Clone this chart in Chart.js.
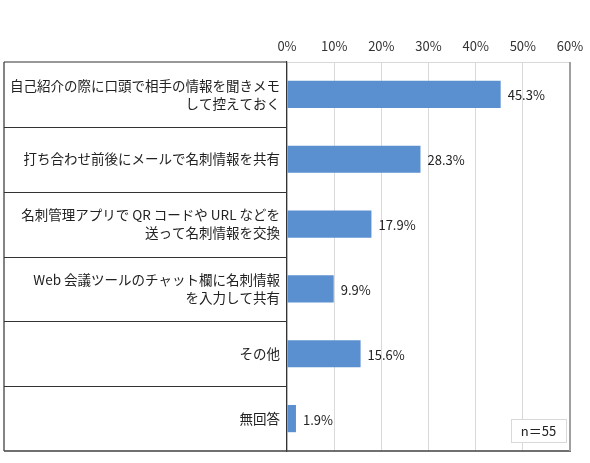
<!DOCTYPE html>
<html>
<head>
<meta charset="utf-8">
<script src="https://cdn.jsdelivr.net/npm/chart.js@4.4.1/dist/chart.umd.min.js"></script>
<style>
html,body{margin:0;padding:0;background:#fff;overflow:hidden;}
canvas{display:block;}
</style>
</head>
<body>
<canvas id="c" width="590" height="463" style="width:590px;height:463px"></canvas>
<script>
const categories = [
  ["自己紹介の際に口頭で相手の情報を聞きメモ", "して控えておく"],
  ["打ち合わせ前後にメールで名刺情報を共有"],
  ["名刺管理アプリで QR コードや URL などを", "送って名刺情報を交換"],
  ["Web 会議ツールのチャット欄に名刺情報", "を入力して共有"],
  ["その他"],
  ["無回答"]
];
const values = [45.3, 28.3, 17.9, 9.9, 15.6, 1.9];
const sampleNote = "n＝55";
const axisMin = 0, axisMax = 60, axisStep = 10;

const FONT = '"Noto Sans CJK JP", "Noto Sans", sans-serif';

const framePlugin = {
  id: 'frame',
  afterDraw(chart) {
    const ctx = chart.ctx;
    const ca = chart.chartArea;
    const y = chart.scales.y;
    const leftX = 4;
    ctx.save();
    ctx.strokeStyle = '#333';
    ctx.lineWidth = 1.2;
    ctx.beginPath();
    ctx.moveTo(leftX, ca.top); ctx.lineTo(ca.left, ca.top);
    ctx.moveTo(leftX, ca.top); ctx.lineTo(leftX, ca.bottom);
    for (let i = 0; i < categories.length - 1; i++) {
      const py = Math.round((y.getPixelForValue(i) + y.getPixelForValue(i + 1)) / 2) + 0.5;
      ctx.moveTo(leftX, py); ctx.lineTo(ca.left, py);
    }
    ctx.stroke();
    ctx.beginPath();
    ctx.lineWidth = 1.5;
    ctx.strokeStyle = '#404040';
    ctx.moveTo(leftX, ca.bottom); ctx.lineTo(ca.right + 1, ca.bottom);
    ctx.stroke();
    ctx.beginPath();
    ctx.lineWidth = 2;
    ctx.strokeStyle = '#a0a0a0';
    ctx.moveTo(ca.right, ca.top); ctx.lineTo(ca.right, ca.bottom);
    ctx.stroke();
    const meta = chart.getDatasetMeta(0);
    ctx.fillStyle = '#222';
    ctx.font = '13px ' + FONT;
    ctx.textAlign = 'left';
    ctx.textBaseline = 'middle';
    meta.data.forEach((bar, i) => {
      ctx.fillText(values[i].toFixed(1) + '%', bar.x + 7, bar.y + 1);
    });
    const bx = ca.right - 59, by = ca.bottom - 32, bw = 55, bh = 23;
    ctx.fillStyle = '#fff';
    ctx.fillRect(bx, by, bw, bh);
    ctx.strokeStyle = '#d9d9d9';
    ctx.lineWidth = 1;
    ctx.strokeRect(bx + 0.5, by + 0.5, bw, bh);
    ctx.fillStyle = '#222';
    ctx.textAlign = 'center';
    ctx.font = '13px ' + FONT;
    ctx.fillText(sampleNote, bx + bw / 2, by + bh / 2 + 1);
    ctx.restore();
  }
};

new Chart(document.getElementById('c'), {
  type: 'bar',
  data: {
    labels: categories,
    datasets: [{
      data: values,
      backgroundColor: '#5a8fd0',
      borderWidth: 0,
      barPercentage: 0.42,
      categoryPercentage: 1.0
    }]
  },
  options: {
    indexAxis: 'y',
    responsive: false,
    maintainAspectRatio: false,
    animation: false,
    devicePixelRatio: 1,
    layout: { padding: { left: 4, right: 20, top: 0, bottom: 12 } },
    plugins: { legend: { display: false }, tooltip: { enabled: false } },
    scales: {
      x: {
        position: 'top',
        min: axisMin, max: axisMax,
        ticks: {
          stepSize: axisStep,
          callback: v => v + '%',
          font: { family: FONT, size: 13 },
          color: '#333',
          padding: 8
        },
        grid: { color: '#d9d9d9', drawTicks: false, lineWidth: 1 },
        border: { display: true, color: '#d9d9d9' },
        afterFit(scale) { scale.height = 62; scale.paddingLeft = 0; scale.paddingRight = 0; }
      },
      y: {
        ticks: {
          autoSkip: false,
          font: { family: FONT, size: 13.5, lineHeight: 1.33 },
          color: '#222',
          padding: 7
        },
        grid: { display: false, drawTicks: false },
        border: { display: true, color: '#333', width: 1.2 },
        afterFit(scale) { scale.width = 283; scale.paddingTop = 0; scale.paddingBottom = 0; }
      }
    }
  },
  plugins: [framePlugin]
});
</script>
</body>
</html>
